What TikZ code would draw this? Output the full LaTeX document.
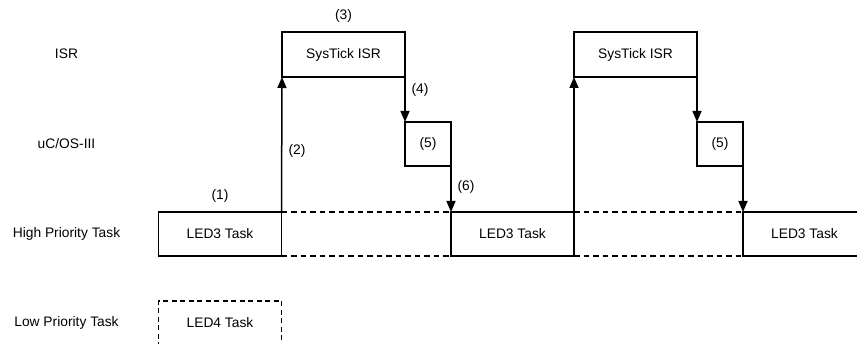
\documentclass[tikz,border=0pt]{standalone}
\usepackage{fontspec}
\setmainfont{Liberation Sans}
\usetikzlibrary{arrows.meta}
\begin{document}
\begin{tikzpicture}[x=1pt,y=-1pt,
  every node/.style={font=\fontsize{13.8}{15}\selectfont, inner sep=0pt, outer sep=0pt},
  box/.style={draw, line width=1.5pt, minimum width=123pt, minimum height=44pt},
  smallbox/.style={draw, line width=1.5pt, minimum width=46pt, minimum height=44pt},
  dbox/.style={box, dash pattern=on 5pt off 3.5pt},
  flow/.style={line width=1.5pt, -{Triangle[length=11pt,width=9pt]}},
  gap/.style={line width=1.5pt, dash pattern=on 5.5pt off 4pt}]
\clip (0,0) rectangle (857,344);
\useasboundingbox (0,0) rectangle (857,344);
% row labels
\node (lisr) at (66.5,54) {ISR};
\node (los) at (66.5,144) {uC/OS-III};
\node (lhigh) at (66.5,234) {High Priority Task};
\node (llow) at (66.5,323) {Low Priority Task};
% boxes
\node[box] (led3a) at (220,234) {LED3 Task};
\node[dbox] (led4) at (220,323) {LED4 Task};
\node[box, minimum height=45pt] (isr1) at (343.5,54.5) {SysTick ISR};
\node[smallbox] (os1) at (428,144) {(5)};
\node[box] (led3b) at (512.5,234) {LED3 Task};
\node[box, minimum height=45pt] (isr2) at (635.5,54.5) {SysTick ISR};
\node[smallbox] (os2) at (720,144) {(5)};
\node[box] (led3c) at (804.5,234) {LED3 Task};
% connectors
\draw[flow] (led3a.north east) -- (isr1.south west);
\draw[flow] (isr1.south east) -- (os1.north west);
\draw[flow] (os1.south east) -- (led3b.north west);
\draw[flow] (led3b.north east) -- (isr2.south west);
\draw[flow] (isr2.south east) -- (os2.north west);
\draw[flow] (os2.south east) -- (led3c.north west);
% dashed gaps
\draw[gap] (led3a.north east) -- (led3b.north west);
\draw[gap] (led3a.south east) -- (led3b.south west);
\draw[gap] (led3b.north east) -- (led3c.north west);
\draw[gap] (led3b.south east) -- (led3c.south west);
% step labels
\node (s1) at (220,196) {(1)};
\node (s2) at (297,151) {(2)};
\node (s3) at (343.5,16) {(3)};
\node (s4) at (420,90) {(4)};
\node (s6) at (466,187) {(6)};
\end{tikzpicture}
\end{document}
